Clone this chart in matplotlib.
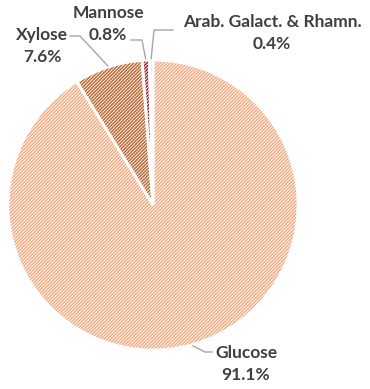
import numpy as np
import matplotlib.pyplot as plt

# sugar composition of the hydrolysate (%)
sugars = ['Glucose', 'Xylose', 'Mannose', 'Arab. Galact. & Rhamn.']
shares = [91.1, 7.6, 0.8, 0.4]
labels = ['Glucose\n91.1%', 'Xylose\n7.6%', 'Mannose\n0.8%', 'Arab. Galact. & Rhamn.\n0.4%']
hatch_colors = ['#F4AE88', '#BC6C38', '#9C2834', '#D6B8BE']

plt.rcParams['hatch.linewidth'] = 1.1
plt.rcParams['font.family'] = ['Lato', 'DejaVu Sans']

W, H = 370, 389
CX, CY, R = 153, 205, 145   # pie centre / radius in pixels


def px(x, y):
    """pixel position (from top-left) -> data coords of the pie axes"""
    return (x - CX) / R, (CY - y) / R


fig = plt.figure(figsize=(W / 100, H / 100), dpi=100)
ax = fig.add_axes([(CX - R) / W, (H - CY - R) / H, 2 * R / W, 2 * R / H])

# hatched fill first, then white separators on top
wedges, _ = ax.pie(shares, startangle=90, counterclock=False,
                   colors=['white'] * len(shares), wedgeprops=dict(linewidth=0))
for w, c in zip(wedges, hatch_colors):
    w.set_hatch('/' * 10)
    w.set_edgecolor(c)
ax.pie(shares, startangle=90, counterclock=False, colors=['none'] * len(shares),
       wedgeprops=dict(linewidth=2, edgecolor='white'))
ax.set_xlim(-1, 1)
ax.set_ylim(-1, 1)
ax.set_aspect('equal')

# label text centres and leader elbows (pixels)
text_pos = [(246, 364), (42, 46), (108, 24), (272, 33)]
elbows = [
    [(205, 352), (212, 352)],
    [(80, 36), (70, 36)],
    [(142, 40), (131, 40)],
    [(154, 30), (173, 30)],
]

for w, lab, tp, elb in zip(wedges, labels, text_pos, elbows):
    mid = np.deg2rad((w.theta1 + w.theta2) / 2)
    r0 = 1.01
    pts = [(r0 * np.cos(mid), r0 * np.sin(mid))] + [px(*p) for p in elb]
    xs, ys = zip(*pts)
    ax.plot(xs, ys, color='#A6A6A6', lw=1, clip_on=False)
    tx, ty = px(*tp)
    ax.text(tx, ty, lab, ha='center', va='center', fontsize=12.5, fontweight='bold',
            color='#404040', linespacing=1.4, clip_on=False)

fig.savefig('out.png', dpi=100, facecolor='white')
